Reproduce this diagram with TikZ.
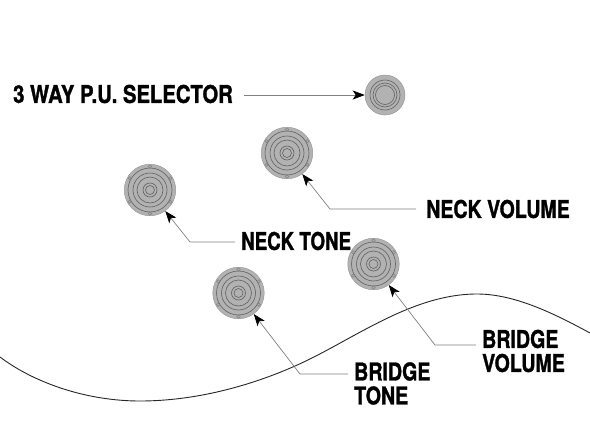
\documentclass[tikz,border=0pt]{standalone}
\usepackage{fontspec}
\setmainfont{TeX Gyre Heros}[BoldFeatures={FakeStretch=0.8,FakeBold=1.2}]
\usetikzlibrary{arrows.meta}
\tikzset{
  x=1pt,y=-1pt,
  knobface/.style={circle,draw=black!40,line width=0.5pt,fill=black!30,inner sep=0pt,minimum size=#1},
  ring/.style={draw=black!62,line width=0.6pt},
  lab/.style={font=\bfseries\fontsize{24.5}{24}\selectfont,inner sep=0pt,align=left,anchor=west,text=black},
  leader/.style={draw=black!50,line width=0.7pt,-{Stealth[length=12pt,width=9pt,inset=3pt,black]}},
}
\newcommand{\bigknob}[3]{%
  \node[knobface=51.5pt] (#1) at (#2,#3) {};
  \foreach \r in {22,17,13,7,4.5} \draw[ring] (#1.center) circle[radius=\r];
  \foreach \a in {30,90,150,210,270,330}
    \draw[draw=black!50,line width=0.5pt] (#1.center) ++(\a:23.5) circle[radius=1.7];
}
\begin{document}
\begin{tikzpicture}
\useasboundingbox (0,0) rectangle (590,434);
\draw[line width=0.9pt,black!85] (0,357) .. controls (33,382) and (85,401) .. (140,401)
  .. controls (195,401) and (250,386) .. (295,366)
  .. controls (350,342) and (410,294) .. (477,294)
  .. controls (515,294) and (555,314) .. (590,333);
% selector
\node[knobface=40pt] (sel) at (385,95) {};
\foreach \r in {15,12,9.5} \draw[ring] (sel.center) circle[radius=\r];
\bigknob{nv}{287}{153}
\bigknob{nt}{150}{190}
\bigknob{bv}{373.5}{264}
\bigknob{bt}{238.5}{293}
\node[lab,xscale=1.033,transform shape] (lsel) at (13,94) {3 WAY P.U. SELECTOR};
\node[lab] (lnv) at (426,209) {NECK VOLUME};
\node[lab,xscale=0.955,transform shape] (lnt) at (241,241) {NECK TONE};
\node[lab] (lbv) at (482,351) {BRIDGE\\VOLUME};
\node[lab] (lbt) at (354,383.5) {BRIDGE\\TONE};
\coordinate (c1) at (330,209);
\coordinate (c2) at (190,242);
\coordinate (c3) at (435,345);
\coordinate (c4) at (300,374);
\coordinate (e1) at (416,209);
\coordinate (e2) at (235,242);
\coordinate (e3) at (476,345);
\coordinate (e4) at (348,374);
\coordinate (s0) at (244,95);
\draw[leader] (s0) -- (sel.west);
\draw[leader] (e1) -- (c1) -- (nv.-54);
\draw[leader] (e2) -- (c2) -- (nt.-54);
\draw[leader] (e3) -- (c3) -- (bv.-54);
\draw[leader] (e4) -- (c4) -- (bt.-54);
\end{tikzpicture}
\end{document}
